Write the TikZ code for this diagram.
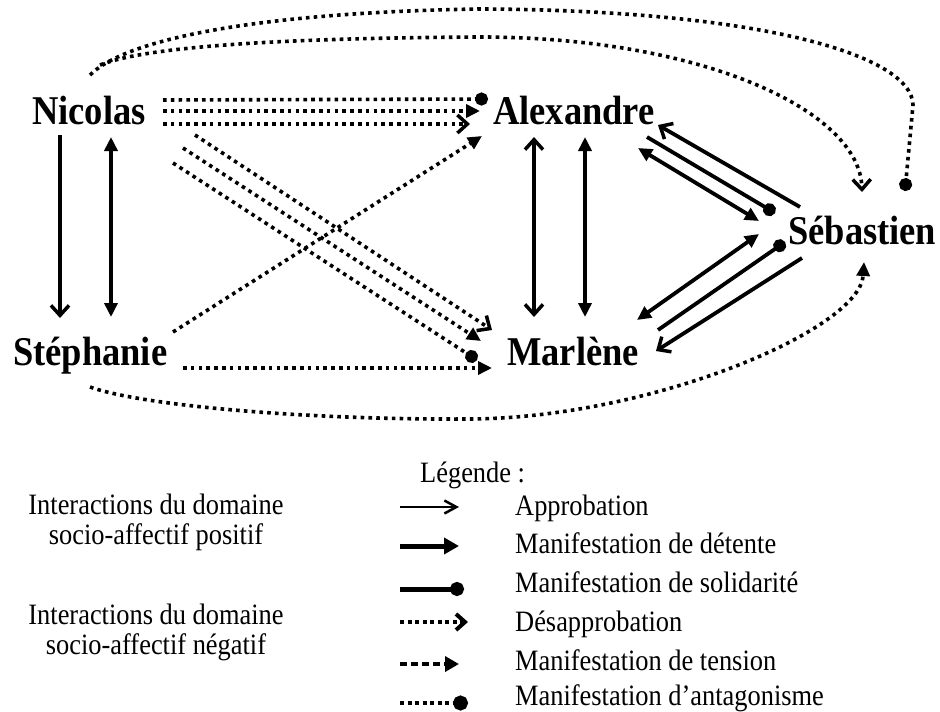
\documentclass[tikz,border=0pt]{standalone}
\usepackage{fontspec}
\setmainfont{Liberation Serif}
\usepackage{graphicx}
\usetikzlibrary{arrows.meta}
\newcommand\vstretch[1]{\scalebox{1}[1.12]{#1}}
\tikzset{
  brb/.tip={Straight Barb[length=10pt,width=18pt,line width=3.5pt]},
  tri/.tip={Triangle[length=14pt,width=13pt]},
  dt/.tip={Circle[length=13pt]},
  sol/.style={line width=3.8pt},
  dott/.style={line width=3.6pt,dash pattern=on 3.6pt off 4.2pt},
  person/.style={inner sep=0pt,anchor=base west,font=\fontsize{36.5}{40}\selectfont\bfseries},
  leg/.style={inner sep=0pt,anchor=base west,font=\fontsize{26.4}{27.3}\selectfont},
}
\begin{document}
\begin{tikzpicture}[x=1pt,y=-1pt]
\path[use as bounding box,fill=white] (0,0) rectangle (940,712);
% persons
\node[person] (nic) at (32,124) {\vstretch{Nicolas}};
\node[person] (ale) at (493,124) {\vstretch{Alexandre}};
\node[person] (seb) at (788,244) {\vstretch{Sébastien}};
\node[person] (ste) at (13,365) {\vstretch{Stéphanie}};
\node[person] (mar) at (507,365) {\vstretch{Marlène}};
% vertical links
\coordinate (ns1) at (60,135); \coordinate (sn1) at (60,318);
\draw[sol,-brb] (ns1) -- (sn1);
\coordinate (ns2) at (111,137); \coordinate (sn2) at (111,317);
\draw[sol,tri-tri] (ns2) -- (sn2);
\coordinate (am1) at (534,137); \coordinate (ma1) at (534,317);
\draw[sol,brb-brb] (am1) -- (ma1);
\coordinate (am2) at (585,137); \coordinate (ma2) at (585,317);
\draw[sol,tri-tri] (am2) -- (ma2);
% Nicolas -> Alexandre
\coordinate (na1) at (163,100); \coordinate (an1) at (488,99);
\draw[dott,-dt] (na1) -- (an1);
\coordinate (na2) at (163,111); \coordinate (an2) at (480,111);
\draw[dott,-tri] (na2) -- (an2);
\coordinate (na3) at (163,124); \coordinate (an3) at (470,124);
\draw[dott,-brb] (na3) -- (an3);
% Stephanie -> Alexandre
\coordinate (sa1) at (173,332); \coordinate (as1) at (482,136);
\draw[dott,-tri] (sa1) -- (as1);
% Nicolas -> Marlene
\coordinate (nm1) at (195,135); \coordinate (mn1) at (492,330);
\draw[dott,-brb] (nm1) -- (mn1);
\coordinate (nm2) at (183,148); \coordinate (mn2) at (481,341);
\draw[dott,-tri] (nm2) -- (mn2);
\coordinate (nm3) at (173,163); \coordinate (mn3) at (477,360);
\draw[dott,-dt] (nm3) -- (mn3);
% Stephanie -> Marlene
\coordinate (sm1) at (183,368); \coordinate (ms1) at (492,368);
\draw[dott,-tri] (sm1) -- (ms1);
% Alexandre <-> Sebastien
\coordinate (sb1) at (800,207); \coordinate (ab1) at (658,125);
\draw[sol,-brb] (sb1) -- (ab1);
\coordinate (ab2) at (647,137); \coordinate (sb2) at (775,213);
\draw[sol,-dt] (ab2) -- (sb2);
\coordinate (ab3) at (638,148); \coordinate (sb3) at (759,221);
\draw[sol,tri-tri] (ab3) -- (sb3);
% Marlene <-> Sebastien
\coordinate (mb1) at (637,320); \coordinate (bm1) at (759,234);
\draw[sol,tri-tri] (mb1) -- (bm1);
\coordinate (mb2) at (658,330); \coordinate (bm2) at (785,242);
\draw[sol,-dt] (mb2) -- (bm2);
\coordinate (bm3) at (802,258); \coordinate (mb3) at (656,351);
\draw[sol,-brb] (bm3) -- (mb3);
% curves
\coordinate (c1s) at (90,75); \coordinate (c1e) at (905,191);
\draw[dott,-dt] (c1s) .. controls (130,35) and (280,12) .. (480,9)
   .. controls (760,10) and (912,55) .. (913,105) -- (c1e);
\coordinate (c2s) at (100,65); \coordinate (c2e) at (862,192);
\draw[dott,-brb] (c2s) .. controls (150,45) and (300,38) .. (480,37)
   .. controls (700,37) and (860,110) .. (c2e);
\coordinate (c3s) at (90,387); \coordinate (c3e) at (864,262);
\draw[dott,-tri] (c3s) .. controls (140,405) and (300,420) .. (470,419)
   .. controls (650,418) and (860,330) .. (c3e);
% legend
\node[leg] (lgd) at (420,482) {\vstretch{Légende :}};
\node[leg,anchor=base] (pos) at (156,514) {\vstretch{\begin{tabular}[t]{@{}c@{}}Interactions du domaine\\socio-affectif positif\end{tabular}}};
\node[leg,anchor=base] (neg) at (156,624) {\vstretch{\begin{tabular}[t]{@{}c@{}}Interactions du domaine\\socio-affectif négatif\end{tabular}}};
\node[leg] (t1) at (515,515) {\vstretch{Approbation}};
\node[leg] (t2) at (515,553) {\vstretch{Manifestation de détente}};
\node[leg] (t3) at (515,592) {\vstretch{Manifestation de solidarité}};
\node[leg] (t4) at (515,631) {\vstretch{Désapprobation}};
\node[leg] (t5) at (515,670) {\vstretch{Manifestation de tension}};
\node[leg] (t6) at (515,705) {\vstretch{Manifestation d’antagonisme}};
\coordinate (l1a) at (400,507); \coordinate (l1b) at (459,507);
\draw[line width=2.5pt,-{Straight Barb[length=12pt,width=13pt,line width=2.5pt]}] (l1a) -- (l1b);
\coordinate (l2a) at (400,546); \coordinate (l2b) at (459,546);
\draw[line width=5pt,-{Triangle[length=15pt,width=16pt]}] (l2a) -- (l2b);
\coordinate (l3a) at (400,589); \coordinate (l3b) at (464,589);
\draw[line width=5pt,-{Circle[length=14pt]}] (l3a) -- (l3b);
\coordinate (l4a) at (400,622); \coordinate (l4b) at (468,622);
\draw[dott,line width=4pt,dash pattern=on 4pt off 3.5pt,-{Straight Barb[length=9pt,width=16pt,line width=4pt]}] (l4a) -- (l4b);
\coordinate (l5a) at (400,664); \coordinate (l5b) at (459,664);
\draw[line width=4pt,dash pattern=on 7pt off 4pt,-{Triangle[length=14pt,width=15pt]}] (l5a) -- (l5b);
\coordinate (l6a) at (400,703); \coordinate (l6b) at (468,703);
\draw[dott,line width=4pt,dash pattern=on 4pt off 3.5pt,-{Circle[length=15pt]}] (l6a) -- (l6b);
\end{tikzpicture}
\end{document}
